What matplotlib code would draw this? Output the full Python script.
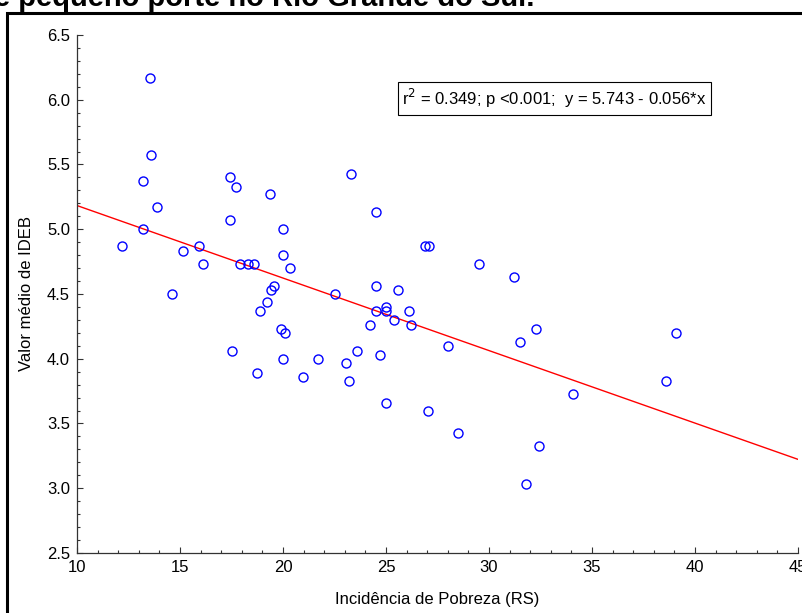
import matplotlib
matplotlib.use("Agg")
from matplotlib import pyplot as plt
from matplotlib.patches import Rectangle
from matplotlib.ticker import MultipleLocator
import numpy as np

plt.rcParams['font.family'] = ['Liberation Sans', 'DejaVu Sans']

# Incidência de pobreza (x) e valor médio do IDEB (y)
pobreza = [12.2, 13.2, 13.2, 13.6, 13.55, 13.9, 14.6, 15.15, 15.9, 16.1,
           17.45, 17.45, 17.7, 17.5, 17.9, 18.3, 18.6, 18.75, 18.9, 19.2,
           19.4, 19.55, 19.35, 20.0, 20.0, 19.9, 20.1, 20.0, 20.35, 20.97,
           21.7, 22.5, 23.05, 23.2, 23.3, 23.6, 24.2, 24.5, 24.5, 24.5,
           24.7, 25.0, 25.0, 25.0, 25.4, 25.6, 26.1, 26.2, 26.9, 27.1,
           27.05, 28.0, 28.5, 29.5, 31.2, 31.5, 31.8, 32.3, 32.45, 34.1,
           38.6, 39.1]
ideb = [4.87, 5.00, 5.37, 5.57, 6.17, 5.17, 4.50, 4.83, 4.87, 4.73,
        5.40, 5.07, 5.33, 4.06, 4.73, 4.73, 4.73, 3.89, 4.37, 4.44,
        4.53, 4.56, 5.27, 5.00, 4.80, 4.23, 4.20, 4.00, 4.70, 3.86,
        4.00, 4.50, 3.97, 3.83, 5.43, 4.06, 4.26, 5.13, 4.56, 4.37,
        4.03, 4.40, 4.37, 3.66, 4.30, 4.53, 4.37, 4.26, 4.87, 4.87,
        3.60, 4.10, 3.43, 4.73, 4.63, 4.13, 3.03, 4.23, 3.33, 3.73,
        3.83, 4.20]
intercept = 5.743
slope = -0.056

fig = plt.figure(figsize=(8.03, 6.13), dpi=100)
ax = fig.add_axes([0.0959, 0.0979, 0.8979, 0.845])

xl = np.array([10, 45])
ax.plot(xl, intercept + slope * xl, color='red', lw=1, zorder=2)
ax.plot(pobreza, ideb, 'o', mfc='none', mec='blue', ms=6.5, mew=1, zorder=3)

ax.set_xlim(10, 45)
ax.set_ylim(2.5, 6.5)
ax.xaxis.set_major_locator(MultipleLocator(5))
ax.xaxis.set_minor_locator(MultipleLocator(1))
ax.yaxis.set_major_locator(MultipleLocator(0.5))
ax.yaxis.set_minor_locator(MultipleLocator(0.1))
ax.yaxis.set_major_formatter(plt.FormatStrFormatter('%.1f'))
ax.tick_params(which='both', direction='in', colors='#333333', labelcolor='black',
               labelsize=12, width=0.8)
ax.tick_params(which='major', length=4, pad=5)
ax.tick_params(which='minor', length=2.5)
for s in ['top', 'right']:
    ax.spines[s].set_visible(False)
for s in ['left', 'bottom']:
    ax.spines[s].set_color('#333333')
    ax.spines[s].set_linewidth(0.9)

ax.set_xlabel('Incidência de Pobreza (RS)', fontsize=12, labelpad=12)
ax.set_ylabel('Valor médio de IDEB', fontsize=12, labelpad=9)

ax.text(25.8, 6.01, r'r$^2$ = 0.349; p <0.001;  y = 5.743 - 0.056*x', fontsize=12,
        va='center', ha='left',
        bbox=dict(boxstyle='square,pad=0.28', fc='white', ec='black', lw=0.8))

# moldura e título cortados da figura original
fig.patches.append(Rectangle((7.5 / 803, -0.2), 1.2, 1.2 - 13 / 613, transform=fig.transFigure,
                             fill=False, ec='black', lw=2.2))
fig.text(-0.008, 1 - 6 / 613, 'e pequeno porte no Rio Grande do Sul.', fontsize=21,
         fontweight='bold', ha='left', va='baseline')

fig.savefig('out.png', dpi=100)
